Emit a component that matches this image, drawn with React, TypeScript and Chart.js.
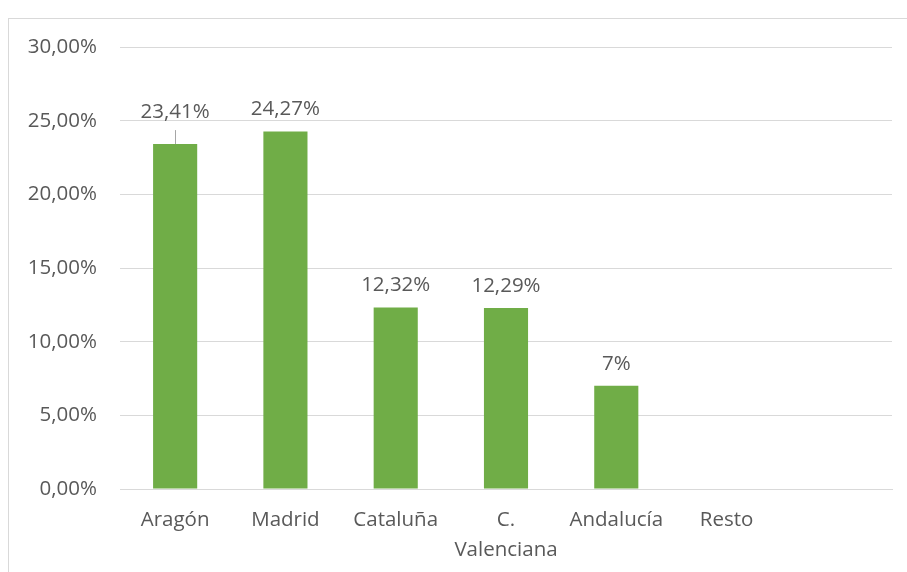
import React, { useEffect, useRef } from "react";
import { Chart, registerables } from "chart.js";

Chart.register(...registerables);

const categories: (string | string[])[] = ["Aragón", "Madrid", "Cataluña", ["C.", "Valenciana"], "Andalucía", "Resto", ""];
const shares: (number | null)[] = [23.41, 24.27, 12.32, 12.29, 7, null, null];
const yTicks: number[] = [0, 5, 10, 15, 20, 25, 30];

const TEXT = "#595959";
const GRID = "#d9d9d9";
const FONT = "'Open Sans', sans-serif";

const fmtLabel = (v: number) =>
  Number.isInteger(v) ? `${v}%` : `${v.toFixed(2).replace(".", ",")}%`;

const labelPlugin = {
  id: "barLabels",
  afterDatasetsDraw(chart: any, _args: any, opts: any) {
    const ctx = chart.ctx;
    const meta = chart.getDatasetMeta(0);
    const lifted: Record<number, number> = opts.lifted || {};
    ctx.save();
    ctx.font = `20.5px ${FONT}`;
    ctx.fillStyle = TEXT;
    ctx.textAlign = "center";
    ctx.textBaseline = "middle";
    meta.data.forEach((bar: any, i: number) => {
      const v = shares[i];
      if (v === null || v === undefined) return;
      let y = bar.y - 22;
      if (lifted[i]) {
        y = bar.y - lifted[i];
        ctx.strokeStyle = "#a6a6a6";
        ctx.lineWidth = 1;
        ctx.beginPath();
        ctx.moveTo(Math.round(bar.x) + 0.5, y + 18);
        ctx.lineTo(Math.round(bar.x) + 0.5, bar.y);
        ctx.stroke();
      }
      ctx.fillText(fmtLabel(v), bar.x, y);
    });
    ctx.restore();
  },
};

export default function App() {
  const ref = useRef<HTMLCanvasElement | null>(null);
  useEffect(() => {
    if (!ref.current) return;
    const chart = new Chart(ref.current, {
      type: "bar",
      data: {
        labels: categories,
        datasets: [
          {
            data: shares,
            backgroundColor: "#70AD47",
            borderWidth: 0,
            categoryPercentage: 0.8,
            barPercentage: 0.5,
          },
        ],
      },
      options: {
        animation: false,
        responsive: false,
        maintainAspectRatio: false,
        layout: { padding: { top: 28, right: 15, left: 0, bottom: 0 } },
        plugins: {
          legend: { display: false },
          tooltip: { enabled: false },
          barLabels: { lifted: { 0: 32 } },
        } as any,
        scales: {
          x: {
            grid: { display: false, drawTicks: false },
            border: { display: true, color: GRID, width: 1 },
            ticks: {
              color: TEXT,
              font: { family: FONT, size: 20.5, lineHeight: 1.46 },
              padding: 16,
              maxRotation: 0,
              autoSkip: false,
            },
            afterFit: (s: any) => {
              s.height = 83;
            },
          },
          y: {
            min: 0,
            max: 30,
            afterBuildTicks: (s: any) => {
              s.ticks = yTicks.map((v) => ({ value: v }));
            },
            grid: { color: GRID, lineWidth: 1, drawTicks: false },
            border: { display: false },
            ticks: {
              color: TEXT,
              font: { family: FONT, size: 20.5 },
              padding: 23,
              callback: (v: any) => `${Number(v).toFixed(2).replace(".", ",")}%`,
            },
            afterFit: (s: any) => {
              s.width = 111;
              s.paddingTop = 0;
              s.paddingBottom = 0;
            },
          },
        },
      },
      plugins: [labelPlugin],
    });
    return () => chart.destroy();
  }, []);

  return (
    <div
      style={{
        position: "absolute",
        left: 8,
        top: 18,
        width: 898,
        height: 553,
        borderTop: `1px solid ${GRID}`,
        borderLeft: `1px solid ${GRID}`,
        overflow: "hidden",
        background: "#fff",
      }}
    >
      <canvas ref={ref} width={898} height={553} style={{ display: "block" }} />
    </div>
  );
}
